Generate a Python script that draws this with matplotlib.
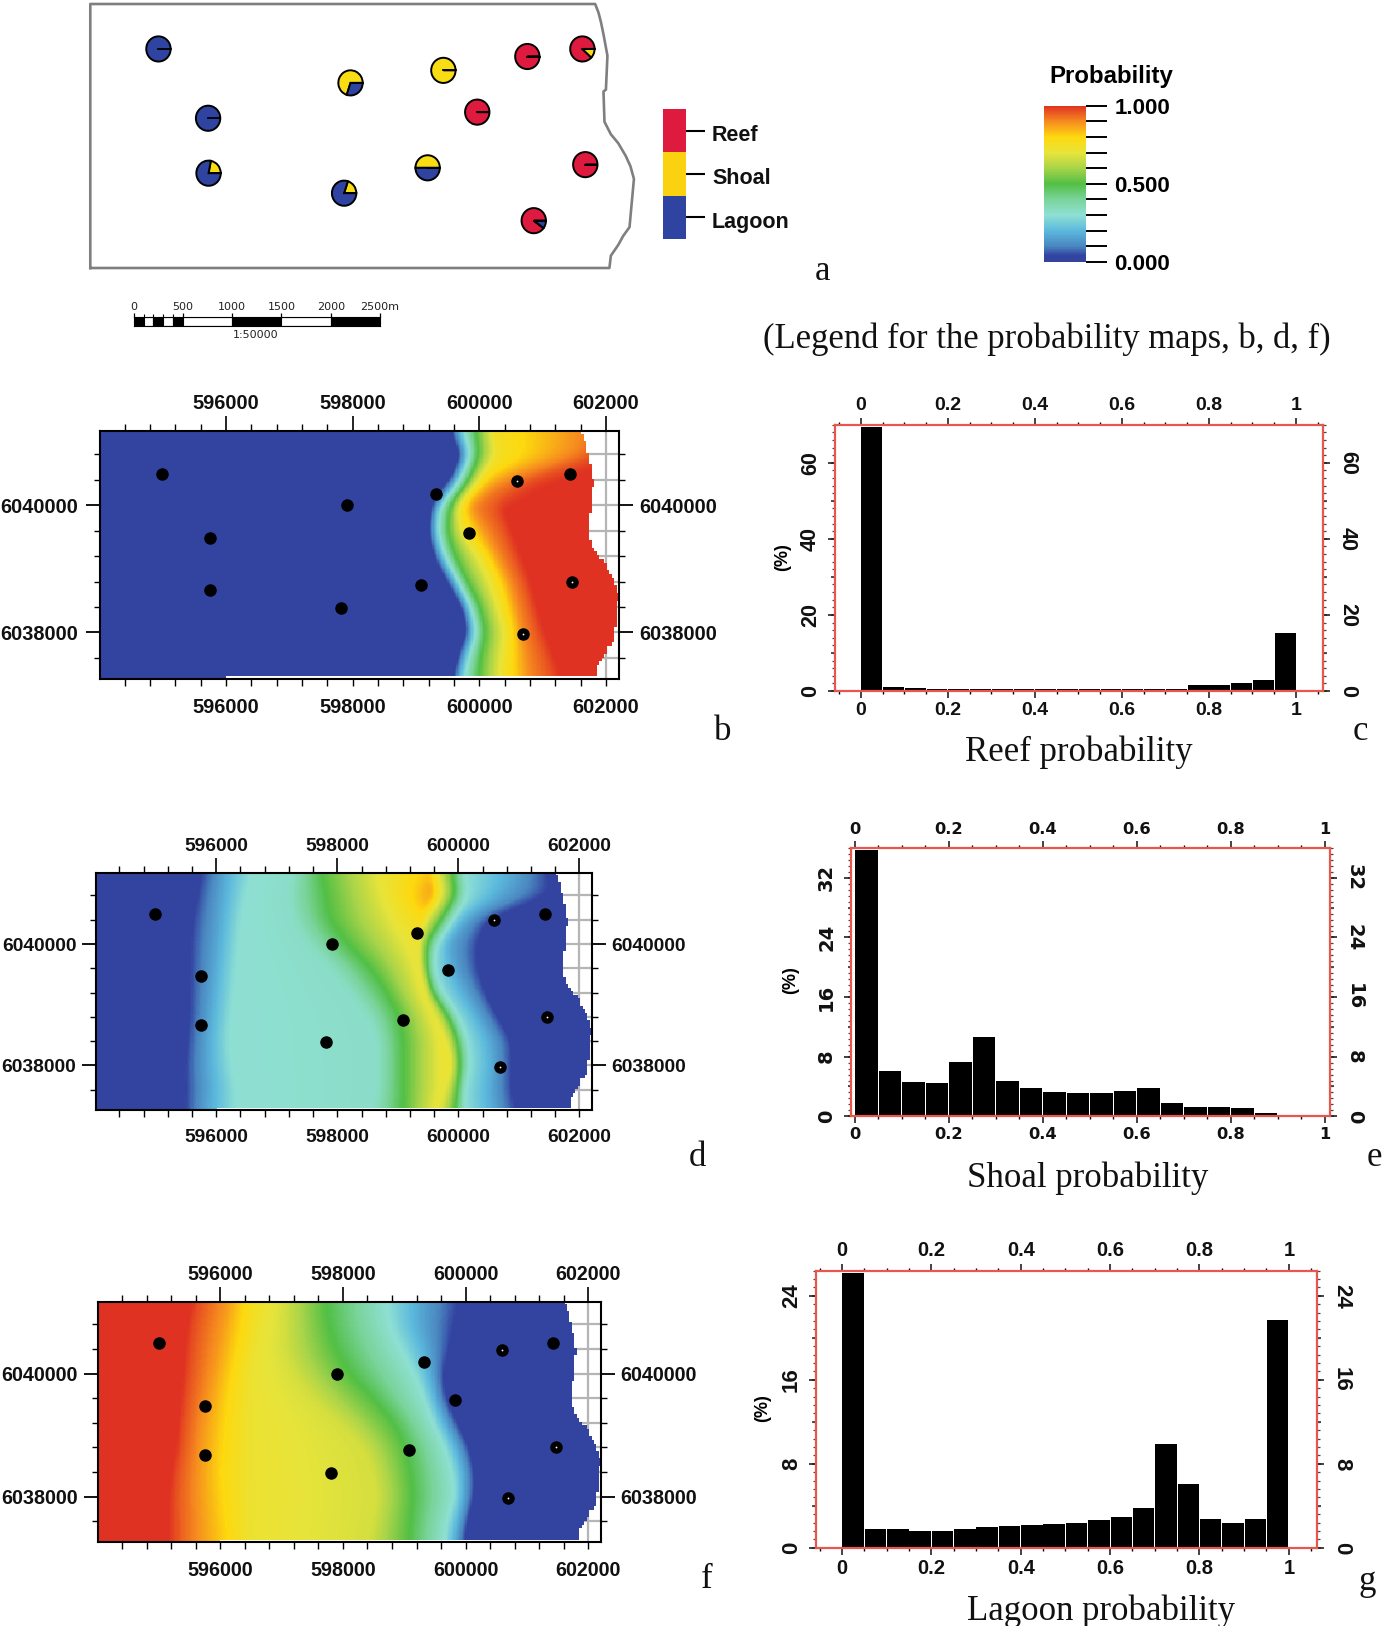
import numpy as np
import matplotlib
matplotlib.use("Agg")
import matplotlib.pyplot as plt
from matplotlib.cm import ScalarMappable
from matplotlib.colors import LinearSegmentedColormap, Normalize
from matplotlib.ticker import FixedLocator, MultipleLocator

W, H = 1382, 1626

SANS = ["Liberation Sans"]
SERIF = ["Liberation Serif"]

# wells (same points on every map)
well_x = [594994, 595747, 595754, 597908, 597811, 599317, 599078, 599831, 600591, 601426, 601470, 600688]
well_y = [6040499, 6039480, 6038672, 6040000, 6038378, 6040184, 6038751, 6039570, 6040388, 6040499, 6038798, 6037974]
well_reef = [0, 0, 0, 0, 0, 0, 0, 1, 1, 0.88, 1, 0.9]
well_shoal = [0, 0, 0.22, 0.7, 0.2, 1, 0.5, 0, 0, 0.12, 0, 0]
well_lagoon = [1, 1, 0.78, 0.3, 0.8, 0, 0.5, 0, 0, 0, 0, 0.1]
hollow_wells = [8, 10, 11]

# right edge of the study area
edge_y = [6041170, 6041029, 6040887, 6040714, 6040399, 6039900, 6039874, 6039428, 6039244, 6039113,
          6038929, 6038772, 6038588, 6037879, 6037748, 6037617, 6037459, 6037265]
edge_x = [601620, 601672, 601709, 601746, 601806, 601783, 601746, 601761, 601858, 601970,
          602082, 602156, 602208, 602141, 602044, 601970, 601858, 601836]

# field rows
field_y = [6041170, 6040800, 6040400, 6040000, 6039600, 6039200, 6038800, 6038400, 6038000, 6037600, 6037265]

reef_levels = [0.02, 0.30, 0.50, 0.75, 0.90, 0.98]
reef_rows = [
    [599540, 599760, 599950, 600250, 601630, 602110],
    [599690, 599870, 599990, 600320, 601510, 602040],
    [599540, 599690, 599840, 600020, 600320, 600990],
    [599240, 599390, 599540, 599690, 599870, 600320],
    [599190, 599350, 599500, 599760, 600130, 600470],
    [599280, 599460, 599610, 600060, 600320, 600620],
    [599500, 599670, 599800, 600250, 600510, 600770],
    [599720, 599870, 600010, 600360, 600620, 600880],
    [599800, 599960, 600100, 600470, 600690, 600990],
    [599650, 599840, 600020, 600430, 600770, 601140],
    [599580, 599760, 599990, 600400, 600810, 601250],
]

# shoal goes up then down again, peak value differs by row
shoal_peak = [0.82, 0.88, 0.78, 0.72, 0.70, 0.70, 0.70, 0.72, 0.73, 0.70, 0.68]
shoal_rows = [
    [595700, 596130, 596560, 597260, 597730, 598660, 599520, 599900, 600110, 600930, 601560],
    [595620, 596090, 596480, 597180, 597810, 598740, 599560, 599950, 600150, 600700, 601630],
    [595540, 596050, 596400, 597260, 597880, 598900, 599370, 599720, 599910, 600110, 600540],
    [595500, 596010, 596360, 597490, 598160, 599130, 599330, 599480, 599640, 599840, 600380],
    [595500, 595970, 596320, 597880, 598550, 599290, 599370, 599480, 599590, 599910, 600380],
    [595500, 595930, 596280, 598200, 598820, 599370, 599480, 599560, 599720, 600110, 600500],
    [595500, 595890, 596240, 598510, 599020, 599560, 599640, 599840, 599990, 600340, 600700],
    [595460, 595850, 596200, 598660, 599090, 599680, 599800, 599990, 600150, 600540, 600930],
    [595420, 595850, 596240, 598660, 599090, 599680, 599880, 600030, 600190, 600580, 600930],
    [595420, 595890, 596320, 598660, 599090, 599680, 599800, 599990, 600110, 600540, 600930],
    [595420, 595850, 596320, 598590, 599090, 599600, 599720, 599950, 600110, 600580, 601010],
]

lagoon_levels = [0.98, 0.88, 0.80, 0.72, 0.67, 0.50, 0.30, 0.17, 0.02]
lagoon_rows = [
    [595580, 596120, 596380, 596730, 597030, 597720, 598720, 599250, 599980],
    [595500, 596040, 596340, 596650, 597030, 597760, 598760, 599250, 599900],
    [595460, 595960, 596270, 596570, 597030, 597880, 598950, 599370, 599790],
    [595430, 595890, 596190, 596500, 597190, 598110, 599180, 599440, 599670],
    [595390, 595810, 596120, 596500, 597490, 598490, 599330, 599520, 599710],
    [595350, 595730, 596080, 596500, 597950, 598830, 599480, 599670, 599900],
    [595310, 595690, 596040, 596500, 598330, 599020, 599670, 599870, 600090],
    [595240, 595660, 596000, 596500, 598490, 599100, 599790, 599980, 600170],
    [595200, 595660, 596040, 596500, 598560, 599140, 599830, 599980, 600170],
    [595200, 595690, 596080, 596500, 598490, 599100, 599710, 599900, 600060],
    [595200, 595690, 596120, 596500, 598410, 599080, 599670, 599830, 600020],
]

# histogram bins (%)
reef_hist = [69.4, 1.0, 0.7, 0.45, 0.45, 0.4, 0.4, 0.4, 0.4, 0.4, 0.4, 0.4, 0.4, 0.6, 0.6, 1.6, 1.6, 2.2, 3.0, 15.3]
shoal_hist = [35.76, 6.1, 4.64, 4.5, 7.32, 10.67, 4.78, 3.75, 3.3, 3.08, 3.08, 3.44, 3.75, 1.74, 1.2, 1.2, 1.07, 0.4, 0, 0]
lagoon_hist = [26.2, 1.81, 1.75, 1.59, 1.59, 1.75, 1.94, 2.06, 2.16, 2.29, 2.38, 2.6, 2.95, 3.81, 9.84, 6.06, 2.73, 2.38, 2.73, 21.7]
hist_bins = [0.05 * i for i in range(20)]

facies_names = ["Lagoon", "Shoal", "Reef"]
facies_colors = ["#2f44a0", "#fbd210", "#de1a3e"]
pie_colors = ["#de1a3e", "#f8dc14", "#2f44a0"]

scale_edges = [0, 100, 200, 300, 400, 500, 1000, 1500, 2000, 2500]
scale_labels = ["0", "500", "1000", "1500", "2000", "2500m"]

prob_stops = [0.0, 0.04, 0.1, 0.2, 0.3, 0.4, 0.5, 0.6, 0.7, 0.8, 0.9, 1.0]
prob_colors = ["#3344a0", "#3344a0", "#4a86c0", "#5cb9dd", "#8fe0d3", "#7ad49b", "#52bf45",
               "#a8d44a", "#e8e43a", "#fdd90f", "#f68b1f", "#e03222"]
prob_cmap = LinearSegmentedColormap.from_list("prob", list(zip(prob_stops, prob_colors)))

fig = plt.figure(figsize=(W / 100, H / 100), dpi=100, facecolor="white")


def px_axes(left, top, right, bottom):
    return fig.add_axes([left / W, 1 - bottom / H, (right - left) / W, (bottom - top) / H])


def px_text(x, y, s, **kw):
    kw.setdefault("ha", "center")
    kw.setdefault("va", "center")
    return fig.text(x / W, 1 - y / H, s, **kw)


def field_grid():
    xs = np.arange(594010, 602230, 20.0)
    ys = np.arange(6037265, 6041190, 20.0)
    return xs, ys


def smooth_axis(img, n, axis):
    k = np.ones(n) / n
    return np.apply_along_axis(lambda r: np.convolve(np.pad(r, n, mode="edge"), k, mode="same")[n:-n], axis, img)


def smooth(img):
    # moving average so the row kinks dont show, stronger along y
    return smooth_axis(smooth_axis(img, 17, 0), 5, 1)


def rising_field(levels, rows, low, high):
    xs, ys = field_grid()
    rows = np.array(rows, dtype=float)
    img = np.zeros((len(ys), len(xs)))
    for j, y in enumerate(ys):
        knots = [np.interp(y, field_y[::-1], rows[::-1, c]) for c in range(rows.shape[1])]
        img[j] = np.interp(xs, knots, levels, left=low, right=high)
    return img


def shoal_field():
    xs, ys = field_grid()
    rows = np.array(shoal_rows, dtype=float)
    peaks = np.array(shoal_peak)
    img = np.zeros((len(ys), len(xs)))
    for j, y in enumerate(ys):
        knots = [np.interp(y, field_y[::-1], rows[::-1, c]) for c in range(rows.shape[1])]
        p = np.interp(y, field_y[::-1], peaks[::-1])
        vals = [0.02, 0.17, 0.30, 0.32, 0.50, 0.70, p, 0.50, 0.30, 0.17, 0.02]
        img[j] = np.interp(xs, knots, vals, left=0, right=0)
    return img


def mask_outside(img):
    xs, ys = field_grid()
    xx, yy = np.meshgrid(xs, ys)
    # stepped edge, the maps are built from ~40 m cells
    snapped = np.round(yy / 60) * 60
    limit = np.interp(snapped, edge_y[::-1], edge_x[::-1])
    outside = (np.round(xx / 40) * 40 > limit) | ((yy < 6037300) & (xx > 596000))
    return np.ma.masked_where(outside, img)


def draw_map(left, top, right, bottom, img, fs, ypad):
    ax = px_axes(left, top, right, bottom)
    xs, ys = field_grid()
    ax.imshow(mask_outside(smooth(img)), extent=[xs[0], xs[-1], ys[0], ys[-1]], origin="lower",
              cmap=prob_cmap, norm=Normalize(0, 1), aspect="auto", interpolation="nearest", zorder=2)
    ax.set_xlim(594010, 602205)
    ax.set_ylim(6037265, 6041170)
    x_major = [596000, 598000, 600000, 602000]
    x_text = ["596000", "598000", "600000", "602000"]
    y_major = [6038000, 6040000]
    y_text = ["6038000", "6040000"]
    font = dict(family=SANS, fontsize=fs, fontweight="bold", color="#111111")
    ax.set_xticks(x_major)
    ax.set_yticks(y_major)
    ax.xaxis.set_minor_locator(MultipleLocator(400))
    ax.yaxis.set_minor_locator(MultipleLocator(400))
    ax.set_yticklabels(y_text, **font)
    ax.set_xticklabels(x_text, **font)
    ax.tick_params(axis="y", which="major", length=10, width=1.3, pad=ypad)
    ax.tick_params(axis="y", which="minor", length=4, width=1)
    ax.tick_params(axis="x", which="major", length=5, width=1, pad=9)
    ax.tick_params(axis="x", which="minor", length=5, width=1)

    top_ax = ax.secondary_xaxis("top")
    top_ax.set_xticks(x_major)
    top_ax.set_xticklabels(x_text, **font)
    top_ax.xaxis.set_minor_locator(MultipleLocator(400))
    top_ax.tick_params(which="major", length=11, width=1.2, pad=1.6)
    top_ax.tick_params(which="minor", length=5, width=1)
    top_ax.spines["top"].set_visible(False)

    right_ax = ax.secondary_yaxis("right")
    right_ax.set_yticks(y_major)
    right_ax.set_yticklabels(y_text, **font)
    right_ax.yaxis.set_minor_locator(MultipleLocator(400))
    right_ax.tick_params(which="major", length=10, width=1.3, pad=4.3)
    right_ax.tick_params(which="minor", length=4, width=1)
    right_ax.spines["right"].set_visible(False)

    # grid only shows in the white corner
    for y in np.arange(6037600, 6041100, 400):
        ax.axhline(y, color="#b5b5b5", lw=1.6, zorder=1)
    ax.axvline(602000, color="#b5b5b5", lw=1.6, zorder=1)
    for i, (x, y) in enumerate(zip(well_x, well_y)):
        ax.plot(x, y, "o", color="black", ms=8, zorder=3)
        if i in hollow_wells:
            ax.plot(x, y, "o", color="white", ms=1.3, mew=0, zorder=4)
    for s in ax.spines.values():
        s.set_linewidth(1.5)
        s.set_zorder(5)
    return ax


def draw_hist(left, top, right, bottom, values, xlim, ylim, ymajor, ymid, yminor, label_font, xfs, yfs, ypad):
    ax = px_axes(left, top, right, bottom)
    ax.bar([b + 0.001 for b in hist_bins], values, width=0.048, align="edge", color="black", lw=0, zorder=2)
    ax.set_xlim(*xlim)
    ax.set_ylim(*ylim)
    xt = [0, 0.2, 0.4, 0.6, 0.8, 1]
    xl = ["0", "0.2", "0.4", "0.6", "0.8", "1"]
    yt = np.arange(0, ylim[1], ymajor)
    yl = ["%d" % v for v in yt]
    ax.set_xticks(xt)
    ax.set_xticklabels(xl, family=label_font, fontsize=xfs, fontweight="bold", color="#111111")
    ax.set_yticks(yt)
    ax.set_yticklabels(yl, family=label_font, fontsize=yfs, fontweight="bold", color="#111111", rotation=90, va="center")
    ax.xaxis.set_minor_locator(MultipleLocator(0.05))
    ax.yaxis.set_minor_locator(MultipleLocator(yminor))
    ax.tick_params(axis="both", which="major", length=5, width=1.2, color="#222222")
    ax.tick_params(axis="x", which="both", top=True, labeltop=True, pad=3)
    ax.tick_params(axis="x", which="minor", length=2.5, width=1)
    ax.tick_params(axis="y", which="both", right=True, labelright=True, pad=ypad)
    ax.tick_params(axis="y", which="minor", length=2, width=0.9, color="#444444")
    for t in ax.yaxis.get_major_ticks():
        t.label2.set_rotation(-90)
        t.label2.set_va("center")
    # medium ticks between the labelled ones
    mids = np.arange(0, ylim[1], ymid)
    reach = 0.008 * (xlim[1] - xlim[0])
    ax.hlines(mids, xlim[0] - reach, xlim[0], color="#222222", lw=1.1, clip_on=False, zorder=1)
    ax.hlines(mids, xlim[1], xlim[1] + reach, color="#222222", lw=1.1, clip_on=False, zorder=1)
    for s in ax.spines.values():
        s.set_color("#e8574e")
        s.set_linewidth(1.6)
        s.set_zorder(4)
    return ax


# --- a: well map
ax_a = px_axes(90.3, 4, 636.7, 268)
outline_x = [593960, 593960] + edge_x + [593960]
outline_y = [6037278, 6041160] + edge_y + [6037278]
outline_y[2] = 6041160
outline_y[-2] = 6037278
ax_a.plot(outline_x, outline_y, color="#7f7f7f", lw=1.9, clip_on=False)
for i in range(len(well_x)):
    fracs = [well_reef[i], well_shoal[i], well_lagoon[i]]
    ax_a.pie(fracs, colors=pie_colors, center=(well_x[i], well_y[i]),
             radius=185, frame=True, wedgeprops={"edgecolor": "black", "linewidth": 1.4})
    ax_a.plot([well_x[i], well_x[i] + 185], [well_y[i], well_y[i]], color="black", lw=1.3)
ax_a.set_aspect("auto")
ax_a.set_xlim(593960, 602250)
ax_a.set_ylim(6037278, 6041160)
ax_a.axis("off")

# facies legend
ax_leg = px_axes(663, 109, 686, 239)
ax_leg.bar([0, 0, 0], [1, 1, 1], bottom=[0, 1, 2], width=1, color=facies_colors)
ax_leg.set_xlim(-0.5, 0.5)
ax_leg.set_ylim(0, 3)
ax_leg.set_xticks([])
ax_leg.yaxis.tick_right()
ax_leg.set_yticks([0.5, 1.5, 2.5])
ax_leg.set_yticklabels([])
ax_leg.tick_params(axis="y", length=14, width=1.5)
for s in ax_leg.spines.values():
    s.set_visible(False)
for y, name in zip([222.5, 179, 135.5], facies_names):
    px_text(712, y, name, family=SANS, fontsize=15.5, fontweight="bold", color="#111111", ha="left")

# scale bar
ax_sc = px_axes(133.7, 316.7, 380, 325.7)
ax_sc.bar(scale_edges[:-1], [1] * 9, width=np.diff(scale_edges), align="edge",
          color=["black", "white"] * 4 + ["black"], edgecolor="black", lw=0.8)
ax_sc.set_xlim(0, 2500)
ax_sc.set_ylim(0, 1)
ax_sc.set_yticks([])
ax_sc.xaxis.tick_top()
ax_sc.set_xticks([0, 500, 1000, 1500, 2000, 2500])
ax_sc.set_xticklabels(scale_labels, fontsize=8, color="#222222")
ax_sc.xaxis.set_minor_locator(FixedLocator([100, 200, 300, 400]))
ax_sc.tick_params(axis="x", which="major", length=3, width=0.9, pad=0.3)
ax_sc.tick_params(axis="x", which="minor", length=2, width=0.8)
for s in ax_sc.spines.values():
    s.set_linewidth(0.8)
px_text(256, 335.5, "1:50000", fontsize=8, color="#222222")

# probability legend
ax_cb = px_axes(1043.7, 105.7, 1086, 262)
cb = fig.colorbar(ScalarMappable(Normalize(0, 1), prob_cmap), cax=ax_cb)
cb.outline.set_visible(False)
cb.set_ticks([0, 0.5, 1], labels=["0.000", "0.500", "1.000"])
cb.set_ticks([0.1, 0.2, 0.3, 0.4, 0.6, 0.7, 0.8, 0.9], minor=True)
ax_cb.tick_params(which="both", length=15, width=1.4, pad=5.5)
for t in ax_cb.get_yticklabels():
    t.set_family(SANS)
    t.set_fontsize(16)
    t.set_fontweight("bold")
px_text(1111, 76, "Probability", family=SANS, fontsize=17.3, fontweight="bold")
px_text(763, 339, "(Legend for the probability maps, b, d, f)", family=SERIF, fontsize=24.95, ha="left", color="#111111")

# --- maps
reef_img = rising_field(reef_levels, reef_rows, 0, 1)
shoal_img = shoal_field()
# lagoon falls with x, levels run the other way
lagoon_img = rising_field(lagoon_levels, lagoon_rows, 1, 0)

draw_map(100, 431, 619, 679, reef_img, 14.4, 5.5)
draw_map(95.8, 873, 591.8, 1110, shoal_img, 13.8, 4)
draw_map(98.2, 1301.7, 600.8, 1541.7, lagoon_img, 14.2, 4.5)

# --- histograms
draw_hist(835, 424.7, 1323, 691, reef_hist, (-0.0593, 1.062), (0, 70), 20, 10, 2, SANS, 14, 15.5, 5)
draw_hist(851.4, 848, 1329.7, 1116.3, shoal_hist, (-0.007, 1.0105), (0, 36), 8, 4, 0.8, ["DejaVu Sans"], 11.7, 14, 6)
draw_hist(816, 1270.7, 1317, 1547.7, lagoon_hist, (-0.058, 1.063), (0, 26.4), 8, 4, 0.8, SANS, 14.5, 16, 5)

px_text(783, 557, "(%)", family=SANS, fontsize=13, fontweight="bold", rotation=90)
px_text(791, 980, "(%)", family=SANS, fontsize=13, fontweight="bold", rotation=90)
px_text(762.5, 1408, "(%)", family=SANS, fontsize=13, fontweight="bold", rotation=90)

px_text(1078.7, 752, "Reef probability", family=SERIF, fontsize=25, color="#111111")
px_text(1087.7, 1178, "Shoal probability", family=SERIF, fontsize=25, color="#111111")
px_text(1100.8, 1611, "Lagoon probability", family=SERIF, fontsize=25, color="#111111")

# panel letters
for x, y, s in [(822, 271, "a"), (723, 731, "b"), (1360, 731, "c"), (697, 1157, "d"),
                (1374, 1157, "e"), (707, 1579, "f"), (1367, 1581, "g")]:
    px_text(x, y, s, family=SERIF, fontsize=25, color="#111111")

fig.savefig("out.png", dpi=100, facecolor="white")
